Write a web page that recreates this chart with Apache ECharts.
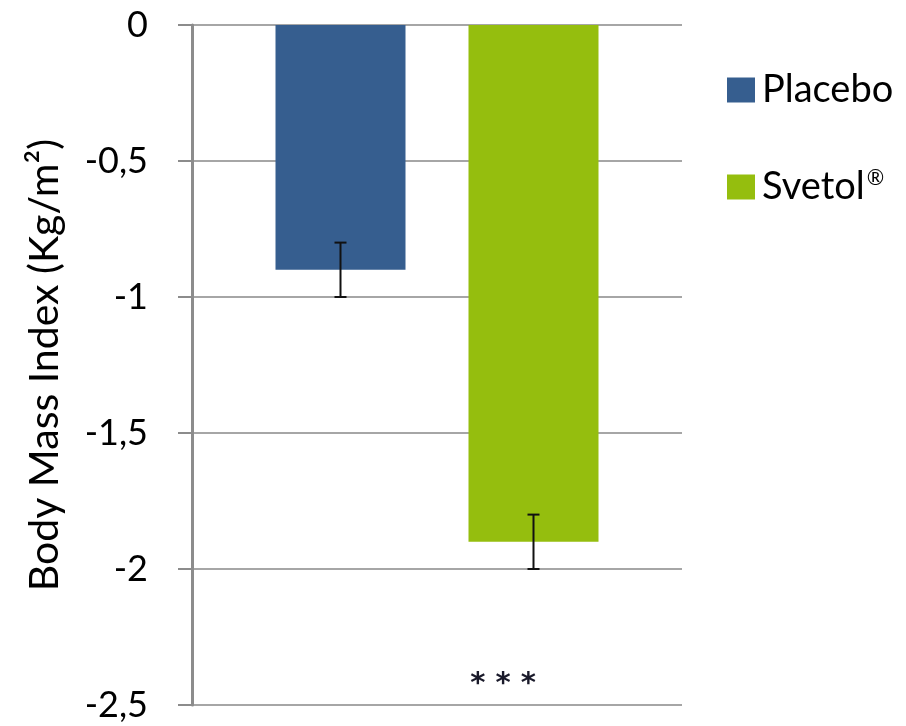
<!DOCTYPE html>
<html>
<head>
<meta charset="utf-8">
<script src="https://cdn.jsdelivr.net/npm/echarts@6/dist/echarts.min.js"></script>
<style>html,body{margin:0;padding:0;background:#fff}#c{width:906px;height:726px}</style>
</head>
<body>
<div id="c"></div>
<script>
var categories = ['Change'];
var seriesNames = ['Placebo', 'Svetol®'];
var placeboValues = [-0.9];
var svetolValues = [-1.9];
var placeboError = [[-0.8, -1.0]];
var svetolError = [[-1.8, -2.0]];
var yTicks = [0, -0.5, -1, -1.5, -2, -2.5];
var significance = '***';

var colors = ['#365E8F', '#95BE0E'];
var BAR_W = 130, GAP = 63;
var offsets = [-(BAR_W + GAP) / 2, (BAR_W + GAP) / 2];
var FONT = 'Lato, "Open Sans", sans-serif';

function errorSeries(name, data, idx) {
  return {
    type: 'custom',
    name: name + ' err',
    z: 5,
    data: data.map(function (d, i) { return [i, d[0], d[1]]; }),
    renderItem: function (params, api) {
      var top = api.coord([api.value(0), api.value(1)]);
      var bot = api.coord([api.value(0), api.value(2)]);
      var x = top[0] + offsets[idx];
      var cap = 6;
      var st = { stroke: '#111', lineWidth: 2 };
      return {
        type: 'group',
        children: [
          { type: 'line', shape: { x1: x, y1: top[1], x2: x, y2: bot[1] }, style: st },
          { type: 'line', shape: { x1: x - cap, y1: top[1], x2: x + cap, y2: top[1] }, style: st },
          { type: 'line', shape: { x1: x - cap, y1: bot[1], x2: x + cap, y2: bot[1] }, style: st }
        ]
      };
    }
  };
}

var chart = echarts.init(document.getElementById('c'));
chart.setOption({
  animation: false,
  backgroundColor: '#fff',
  grid: { left: 192, right: 224, top: 25, bottom: 21, containLabel: false },
  legend: {
    data: seriesNames,
    orient: 'vertical',
    left: 722,
    top: 66,
    itemWidth: 28,
    itemHeight: 25,
    itemGap: 59,
    icon: 'rect',
    textStyle: {
      fontFamily: FONT, fontSize: 38, color: '#000', padding: [0, 0, 0, 2],
      rich: { sup: { fontFamily: FONT, fontSize: 21, color: '#000', verticalAlign: 'top', padding: [0, 0, 15, 2] } }
    },
    formatter: function (n) { return n === 'Svetol®' ? 'Svetol{sup|®}' : n; }
  },
  xAxis: {
    type: 'category',
    data: categories,
    axisLine: { show: false },
    axisTick: { show: false },
    axisLabel: { show: false }
  },
  yAxis: {
    type: 'value',
    min: -2.5,
    max: 0,
    interval: 0.5,
    name: 'Body Mass Index (Kg/m²)',
    nameLocation: 'middle',
    nameGap: 127,
    nameTextStyle: { fontFamily: FONT, fontSize: 41, color: '#000' },
    axisLine: { show: true, lineStyle: { color: '#8c8c8c', width: 3 } },
    axisTick: { show: true, length: 14, lineStyle: { color: '#8c8c8c', width: 2 } },
    splitLine: { show: true, lineStyle: { color: '#a6a6a6', width: 2 } },
    axisLabel: {
      margin: 44,
      fontFamily: FONT, fontSize: 36, color: '#000',
      formatter: function (v) { return String(v).replace('.', ','); }
    }
  },
  series: [
    { type: 'bar', name: seriesNames[0], data: placeboValues, barWidth: BAR_W, barGap: (GAP / BAR_W * 100) + '%', itemStyle: { color: colors[0] } },
    { type: 'bar', name: seriesNames[1], data: svetolValues, barWidth: BAR_W, barGap: (GAP / BAR_W * 100) + '%', itemStyle: { color: colors[1] } },
    errorSeries(seriesNames[0], placeboError, 0),
    errorSeries(seriesNames[1], svetolError, 1)
  ]
});
var p = chart.convertToPixel({ gridIndex: 0 }, [0, -2.4]);
chart.setOption({
  graphic: [{
    type: 'text',
    x: p[0] + 66,
    y: p[1] + 7,
    style: { text: significance.split('').join(' '), fontFamily: 'DejaVu Sans, sans-serif', fontWeight: 'bold', fontSize: 29, fill: '#1a1a2a', align: 'center', verticalAlign: 'middle' }
  }]
});
</script>
</body>
</html>
